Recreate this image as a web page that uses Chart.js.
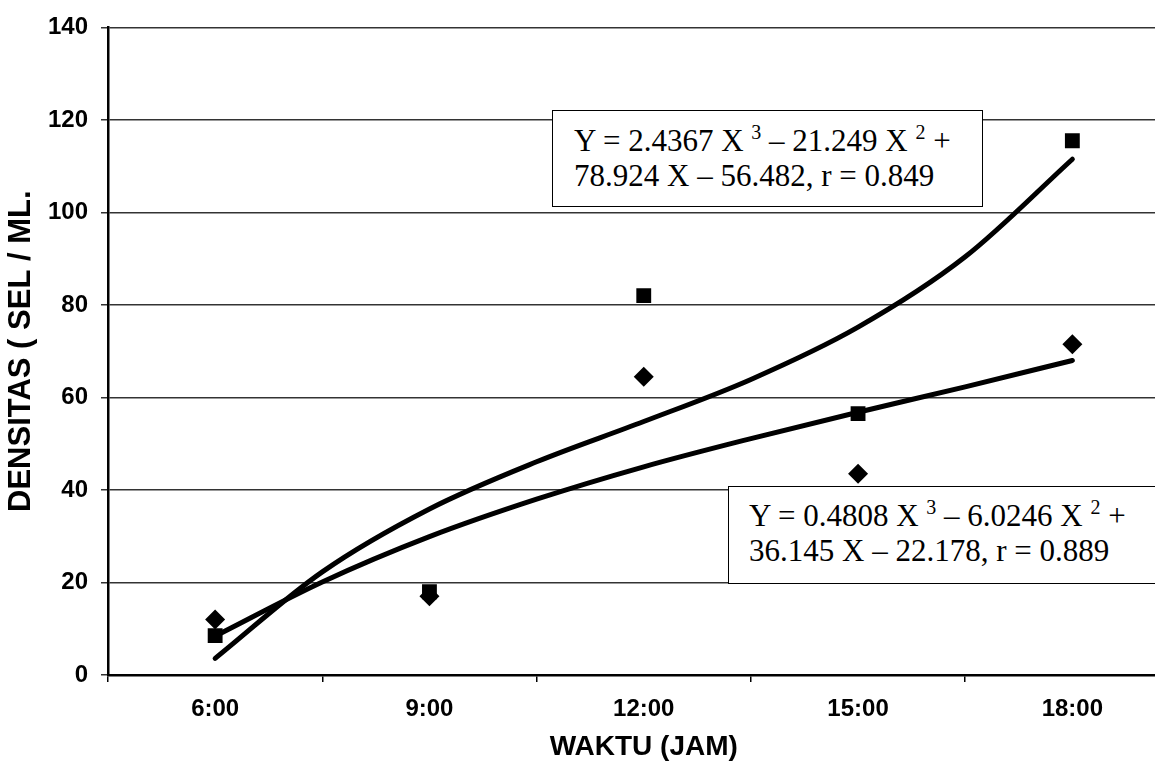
<!DOCTYPE html>
<html>
<head>
<meta charset="utf-8">
<script src="https://cdn.jsdelivr.net/npm/chart.js@4/dist/chart.umd.min.js"></script>
<style>
  html, body { margin: 0; padding: 0; background: #fff; overflow: hidden; }
  #wrap { position: relative; width: 1190px; height: 766px; }
  .eq {
    position: absolute;
    background: #fff;
    border: 1.5px solid #000;
    font-family: "Liberation Serif", "Times New Roman", serif;
    font-size: 31px;
    line-height: 35px;
    color: #000;
    white-space: nowrap;
    box-sizing: border-box;
  }
  .eq sup { font-size: 20px; vertical-align: 12px; line-height: 0; }
</style>
</head>
<body>
<div id="wrap">
  <canvas id="chart" width="1190" height="766"></canvas>
  <div class="eq" style="left:552px; top:110px; width:431px; height:97px; padding:12px 0 0 21px;">
    Y = 2.4367 X <sup>3</sup> – 21.249 X <sup>2</sup> +<br>78.924 X – 56.482, r = 0.849
  </div>
  <div class="eq" style="left:728px; top:486px; width:470px; height:98px; padding:11px 0 0 20px;">
    Y = 0.4808 X <sup>3</sup> – 6.0246 X <sup>2</sup> +<br>36.145 X – 22.178, r = 0.889
  </div>
</div>
<script>
// jam pengamatan
var categories = ['6:00', '9:00', '12:00', '15:00', '18:00'];
// titik data (kotak dan belah ketupat)
var squareValues = [8.5, 18, 82, 56.5, 115.5];
var diamondValues = [12, 17, 64.5, 43.5, 71.5];
// garis tren, dibaca dari gambar tiap 1,5 jam (X = 1 -> 6:00 ... X = 5 -> 18:00)
var trendX = [1, 1.5, 2, 2.5, 3, 3.5, 4, 4.5, 5];
var squareTrend = [3.6, 22.3, 35.9, 46.1, 54.8, 63.9, 75.2, 90.4, 111.5];
var diamondTrend = [8.4, 20.1, 29.9, 38.0, 45.0, 51.1, 56.8, 62.3, 68.0];
var yTicks = [0, 20, 40, 60, 80, 100, 120, 140];

var sansBold = '"Liberation Sans", Arial, sans-serif';
var tickFont = {family: sansBold, size: 24, weight: 'bold'};

function toXY(xs, ys) {
    return xs.map(function(x, i) { return {x: x, y: ys[i]}; });
}

function trendSet(values) {
    return {
        data: toXY(trendX, values),
        xAxisID: 'xt',
        borderColor: '#000',
        borderWidth: 5,
        borderCapStyle: 'round',
        cubicInterpolationMode: 'monotone',
        pointRadius: 0,
        order: 1
    };
}

new Chart(document.getElementById('chart').getContext('2d'), {
    type: 'line',
    data: {
        labels: categories,
        datasets: [
            {
                data: squareValues,
                showLine: false,
                pointStyle: 'rect',
                pointRadius: 10.5,
                pointBackgroundColor: '#000',
                pointBorderWidth: 0,
                order: 0
            },
            {
                data: diamondValues,
                showLine: false,
                pointStyle: 'rectRot',
                pointRadius: 10,
                pointBackgroundColor: '#000',
                pointBorderWidth: 0,
                order: 0
            },
            trendSet(squareTrend),
            trendSet(diamondTrend)
        ]
    },
    options: {
        responsive: false,
        animation: false,
        layout: {padding: {top: 22, right: 4, left: 0, bottom: 0}},
        plugins: {
            legend: {display: false},
            tooltip: {enabled: false}
        },
        scales: {
            x: {
                offset: true,
                grid: {
                    offset: true,
                    drawOnChartArea: false,
                    drawTicks: true,
                    tickLength: 7,
                    color: '#000',
                    lineWidth: 1.5
                },
                border: {color: '#000', width: 2.5},
                ticks: {color: '#000', font: tickFont, padding: 13, maxRotation: 0},
                title: {
                    display: true,
                    text: 'WAKTU (JAM)',
                    color: '#000',
                    font: {family: sansBold, size: 28, weight: 'bold'},
                    padding: {top: 2, bottom: 2}
                },
                afterFit: function(scale) { scale.height = 91; }
            },
            // sumbu bantu untuk garis tren, sejajar dengan pusat kategori
            xt: {
                type: 'linear',
                display: false,
                min: 0.5,
                max: 5.5
            },
            y: {
                min: 0,
                max: 140,
                afterBuildTicks: function(scale) {
                    scale.ticks = yTicks.map(function(v) { return {value: v}; });
                },
                grid: {
                    color: 'rgba(0,0,0,0.8)',
                    lineWidth: 1.5,
                    tickLength: 7
                },
                border: {color: '#000', width: 2.5},
                ticks: {color: '#000', font: tickFont, padding: 13},
                title: {
                    display: true,
                    text: 'DENSITAS ( SEL / ML.',
                    color: '#000',
                    font: {family: sansBold, size: 31, weight: 'bold'},
                    padding: {top: 3, bottom: 3}
                },
                afterFit: function(scale) { scale.width = 108; }
            }
        }
    }
});
</script>
</body>
</html>
